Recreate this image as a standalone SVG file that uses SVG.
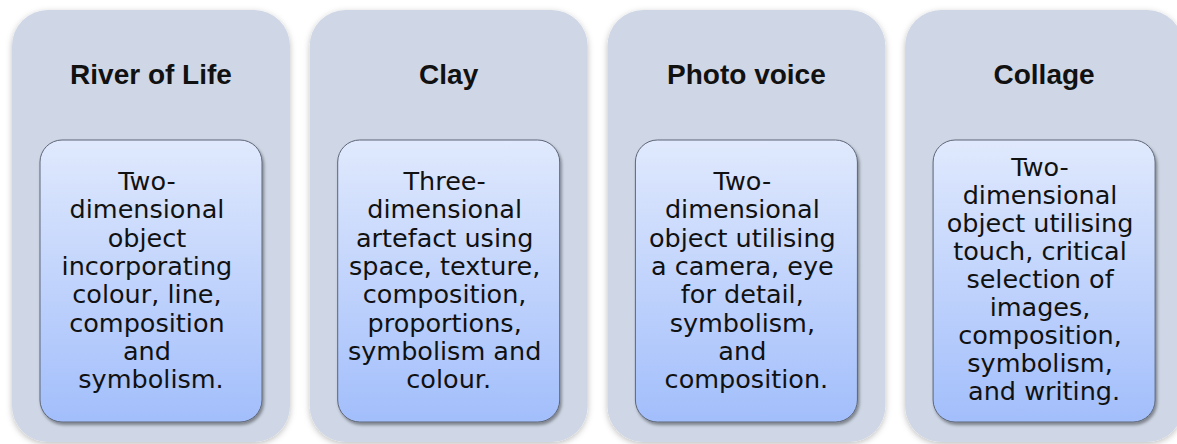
<svg xmlns="http://www.w3.org/2000/svg" width="1177" height="444" viewBox="0 0 1177 444">
  <style>
    .panel { fill: #cfd7e6; filter: url(#panelShadow); }
    .card { fill: url(#cardFill); stroke: #5d6677; stroke-width: 1; filter: url(#cardShadow); }
    .title { font-family: "Liberation Sans", Arial, sans-serif; font-weight: bold; font-size: 28px; fill: #111; text-anchor: middle; }
    .body { font-family: "DejaVu Sans", "Liberation Sans", sans-serif; font-size: 25.5px; fill: #111; text-anchor: middle; }
  </style>
  <defs>
    <linearGradient id="cardFill" x1="0" y1="0" x2="0" y2="1">
      <stop offset="0" stop-color="#e0e9fd"/>
      <stop offset="1" stop-color="#a2befb"/>
    </linearGradient>
    <filter id="panelShadow" x="-10%" y="-10%" width="120%" height="120%">
      <feDropShadow dx="0" dy="2" stdDeviation="3" flood-color="#000" flood-opacity="0.25"/>
    </filter>
    <filter id="cardShadow" x="-10%" y="-10%" width="125%" height="125%">
      <feDropShadow dx="1.5" dy="2.5" stdDeviation="1.8" flood-color="#000" flood-opacity="0.4"/>
    </filter>
  </defs>

  <g id="river-of-life">
    <rect class="panel" x="12" y="10" width="278" height="432" rx="36"/>
    <text class="title" x="151" y="84">River of Life</text>
    <rect class="card" x="40" y="140" width="222" height="282" rx="22"/>
    <text class="body" x="151" y="190">
      <tspan x="151">Two-</tspan>
      <tspan x="151" dy="28.3">dimensional</tspan>
      <tspan x="151" dy="28.3">object</tspan>
      <tspan x="151" dy="28.3">incorporating</tspan>
      <tspan x="151" dy="28.3">colour, line,</tspan>
      <tspan x="151" dy="28.3">composition</tspan>
      <tspan x="151" dy="28.3">and</tspan>
      <tspan x="151" dy="28.3">symbolism.</tspan>
    </text>
  </g>

  <g id="clay">
    <rect class="panel" x="309.7" y="10" width="278" height="432" rx="36"/>
    <text class="title" x="448.7" y="84">Clay</text>
    <rect class="card" x="337.7" y="140" width="222" height="282" rx="22"/>
    <text class="body" x="448.7" y="190">
      <tspan x="448.7">Three-</tspan>
      <tspan x="448.7" dy="28.3">dimensional</tspan>
      <tspan x="448.7" dy="28.3">artefact using</tspan>
      <tspan x="448.7" dy="28.3">space, texture,</tspan>
      <tspan x="448.7" dy="28.3">composition,</tspan>
      <tspan x="448.7" dy="28.3">proportions,</tspan>
      <tspan x="448.7" dy="28.3">symbolism and</tspan>
      <tspan x="448.7" dy="28.3">colour.</tspan>
    </text>
  </g>

  <g id="photo-voice">
    <rect class="panel" x="607.4" y="10" width="278" height="432" rx="36"/>
    <text class="title" x="746.4" y="84">Photo voice</text>
    <rect class="card" x="635.4" y="140" width="222" height="282" rx="22"/>
    <text class="body" x="746.4" y="190">
      <tspan x="746.4">Two-</tspan>
      <tspan x="746.4" dy="28.3">dimensional</tspan>
      <tspan x="746.4" dy="28.3">object utilising</tspan>
      <tspan x="746.4" dy="28.3">a camera, eye</tspan>
      <tspan x="746.4" dy="28.3">for detail,</tspan>
      <tspan x="746.4" dy="28.3">symbolism,</tspan>
      <tspan x="746.4" dy="28.3">and</tspan>
      <tspan x="746.4" dy="28.3">composition.</tspan>
    </text>
  </g>

  <g id="collage">
    <rect class="panel" x="905.1" y="10" width="278" height="432" rx="36"/>
    <text class="title" x="1044.1" y="84">Collage</text>
    <rect class="card" x="933.1" y="140" width="222" height="282" rx="22"/>
    <text class="body" x="1044.1" y="175.5">
      <tspan x="1044.1">Two-</tspan>
      <tspan x="1044.1" dy="28">dimensional</tspan>
      <tspan x="1044.1" dy="28">object utilising</tspan>
      <tspan x="1044.1" dy="28">touch, critical</tspan>
      <tspan x="1044.1" dy="28">selection of</tspan>
      <tspan x="1044.1" dy="28">images,</tspan>
      <tspan x="1044.1" dy="28">composition,</tspan>
      <tspan x="1044.1" dy="28">symbolism,</tspan>
      <tspan x="1044.1" dy="28">and writing.</tspan>
    </text>
  </g>

  <!-- no connectors between the columns -->
  <g id="connectors"/>
</svg>
